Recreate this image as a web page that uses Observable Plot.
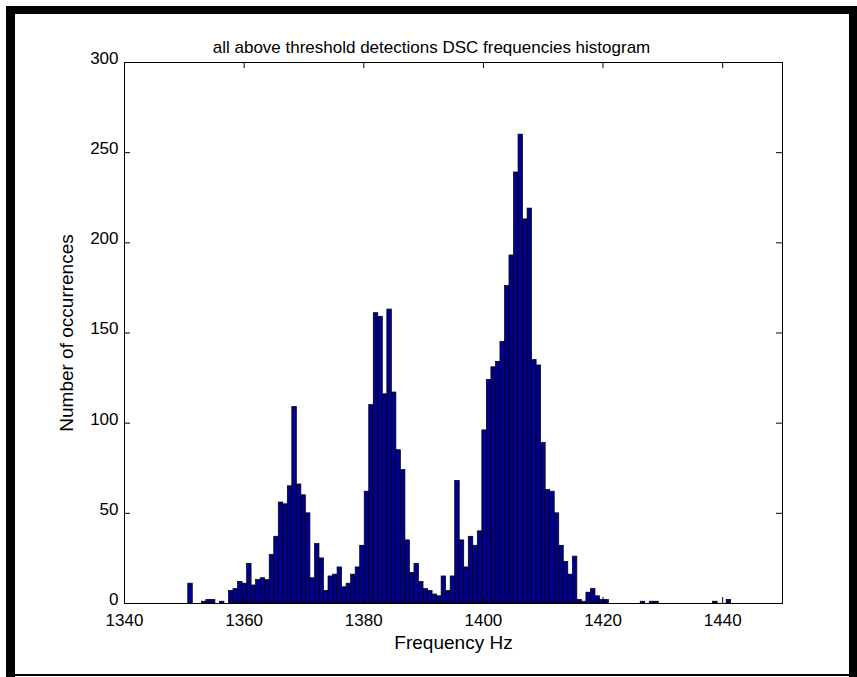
<!DOCTYPE html>
<html>
<head>
<meta charset="utf-8">
<script src="https://cdn.jsdelivr.net/npm/d3@7"></script>
<script src="https://cdn.jsdelivr.net/npm/@observablehq/plot@0.6"></script>
<style>
  html, body { margin: 0; padding: 0; background: #fff; }
  #fig { position: relative; width: 857px; height: 677px; overflow: hidden; background: #fff; }
  #fig svg { position: absolute; left: 0; top: 0; }
  .edge { position: absolute; background: #000; }
</style>
</head>
<body>
<div id="fig">
  <div class="edge" style="left:6px; top:6px; width:851px; height:8px"></div>
  <div class="edge" style="left:6px; top:6px; width:9px; height:671px"></div>
  <div class="edge" style="left:849px; top:6px; width:8px; height:671px"></div>
  <div class="edge" style="left:6px; top:674px; width:851px; height:2px"></div>
</div>
<script>
// Histogram of detected DSC frequencies: 120 equal-width bins between binLo and binHi (Hz)
const binLo = 1350.66;
const binHi = 1441.42;
const counts = [
  11, 0, 0, 1, 2, 2, 0, 1, 0, 7,
  8, 12, 11, 22, 10, 13, 14, 13, 27, 37,
  56, 55, 65, 109, 66, 60, 50, 14, 33, 25,
  7, 15, 16, 20, 9, 11, 16, 20, 32, 62,
  110, 161, 159, 116, 163, 117, 85, 74, 35, 17,
  22, 12, 8, 7, 5, 4, 15, 7, 15, 68,
  35, 20, 37, 32, 40, 96, 124, 131, 134, 145,
  176, 193, 239, 260, 213, 219, 135, 132, 89, 63,
  62, 50, 32, 23, 16, 26, 2, 1, 6, 8,
  4, 2, 2, 0, 0, 0, 0, 0, 0, 0,
  1, 0, 1, 1, 0, 0, 0, 0, 0, 0,
  0, 0, 0, 0, 0, 0, 1, 0, 0, 2
];
const xTicks = [1340, 1360, 1380, 1400, 1420, 1440];
const yTicks = [0, 50, 100, 150, 200, 250, 300];
const title = "all above threshold detections DSC frequencies histogram";
const xLabel = "Frequency Hz";
const yLabel = "Number of occurrences";

const binWidth = (binHi - binLo) / counts.length;
const bins = counts
  .map((n, i) => ({x1: binLo + i * binWidth, x2: binLo + (i + 1) * binWidth, n}))
  .filter(d => d.n > 0);

const W = 857, H = 677;
const mL = 124, mR = 75, mT = 62, mB = 74;
const frameW = W - mL - mR, frameH = H - mT - mB;
const tick = 6;
const plain = d => String(d);

const chart = Plot.plot({
  width: W,
  height: H,
  marginLeft: mL,
  marginRight: mR,
  marginTop: mT,
  marginBottom: mB,
  x: {domain: [1340, 1450]},
  y: {domain: [0, 300]},
  style: {
    fontFamily: "'Liberation Sans', Arial, sans-serif",
    fontSize: "16px",
    color: "#000",
    background: "transparent",
    overflow: "visible"
  },
  marks: [
    Plot.rectY(bins, {x1: "x1", x2: "x2", y: "n", fill: "#00008c", stroke: "#000", strokeWidth: 0.7}),
    Plot.frame({stroke: "#000", strokeWidth: 1}),
    // inward ticks on all four sides
    Plot.tickX(xTicks, {x: d => d, stroke: "#000", insetTop: frameH - tick}),
    Plot.tickX(xTicks, {x: d => d, stroke: "#000", insetBottom: frameH - tick}),
    Plot.tickY(yTicks, {y: d => d, stroke: "#000", insetRight: frameW - tick}),
    Plot.tickY(yTicks, {y: d => d, stroke: "#000", insetLeft: frameW - tick}),
    Plot.axisX(xTicks, {tickSize: 0, tickPadding: 10, tickFormat: plain, label: null, fontSize: 17}),
    Plot.axisY(yTicks, {tickSize: 0, tickPadding: 6, dy: -4, tickFormat: plain, label: null, fontSize: 17}),
    Plot.text([xLabel], {frameAnchor: "bottom", dy: 45, fontSize: 19, fill: "#000"}),
    Plot.text([yLabel], {frameAnchor: "left", dx: -58, rotate: -90, textAnchor: "middle", fontSize: 19, fill: "#000"}),
    Plot.text([title], {frameAnchor: "top", dy: -22, dx: -22, fontSize: 17, fill: "#000"})
  ]
});
document.getElementById("fig").appendChild(chart);
</script>
</body>
</html>
